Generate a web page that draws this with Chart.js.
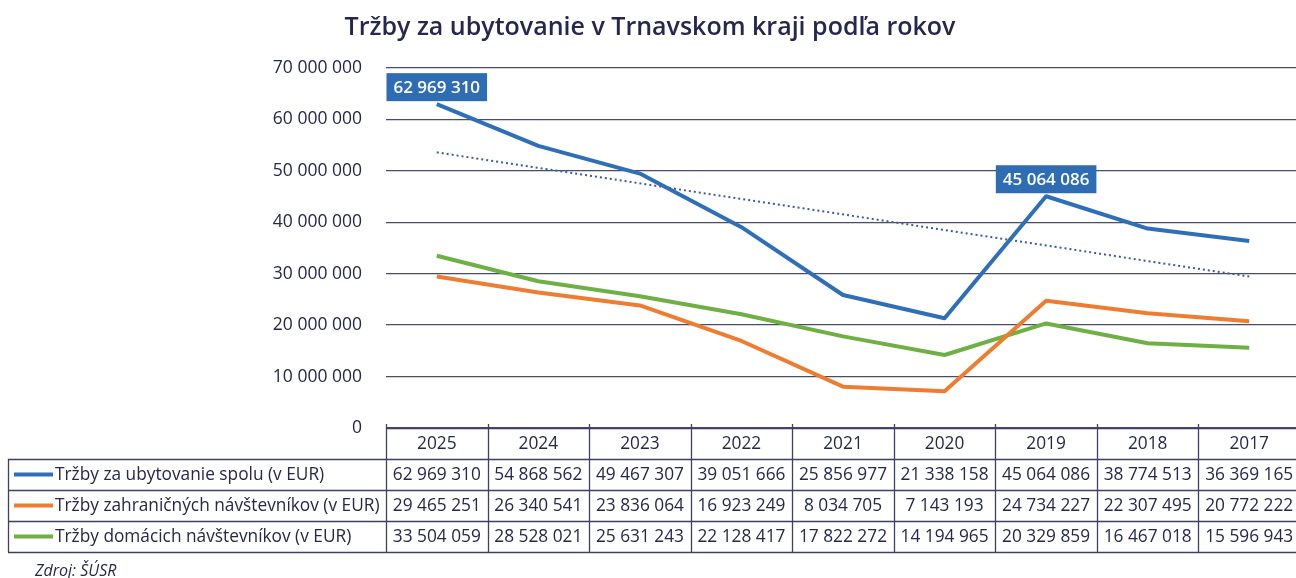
<!DOCTYPE html>
<html lang="sk">
  <head>
    <meta charset="UTF-8" />
    <title>Tržby za ubytovanie v Trnavskom kraji</title>
    <script src="https://cdn.jsdelivr.net/npm/chart.js"></script>
    <style>
      html, body { margin: 0; padding: 0; background: #fff; overflow: hidden; }
      #wrap { width: 1302px; height: 578px; }
    </style>
  </head>
  <body>
    <div id="wrap"><canvas id="trzby" width="1302" height="578"></canvas></div>
    <script>
      // roky (kategórie na osi x)
      const years = ["2025", "2024", "2023", "2022", "2021", "2020", "2019", "2018", "2017"];

      // série
      const spolu = [62969310, 54868562, 49467307, 39051666, 25856977, 21338158, 45064086, 38774513, 36369165];
      const zahranicni = [29465251, 26340541, 23836064, 16923249, 8034705, 7143193, 24734227, 22307495, 20772222];
      const domaci = [33504059, 28528021, 25631243, 22128417, 17822272, 14194965, 20329859, 16467018, 15596943];

      // lineárny trend (odčítané z grafu)
      const trend = [53600000, null, null, null, null, null, null, null, 29450000];

      const seriesNames = [
        "Tržby za ubytovanie spolu (v EUR)",
        "Tržby zahraničných návštevníkov (v EUR)",
        "Tržby domácich návštevníkov (v EUR)",
      ];
      const seriesColors = ["#2f6fb9", "#ee7d31", "#6eb043"];

      // body s popiskom (indexy v sérii spolu)
      const labelled = [0, 6];

      const navy = "#25274f";
      const FONT = "'Open Sans', 'Noto Sans', sans-serif";

      const fmt = (v) => String(v).replace(/\B(?=(\d{3})+(?!\d))/g, " ");

      // tabuľka pod grafom + popisky
      const tablePlugin = {
        id: "dataTable",
        afterDatasetsDraw(chart) {
          const ctx = chart.ctx;
          const meta = chart.getDatasetMeta(0);
          ctx.save();
          ctx.font = "600 17px " + FONT;
          ctx.textAlign = "center";
          ctx.textBaseline = "middle";
          labelled.forEach((i) => {
            const pt = meta.data[i];
            const txt = fmt(spolu[i]);
            const w = ctx.measureText(txt).width + 14;
            const h = 28;
            const bx = pt.x - w / 2;
            const by = pt.y - 3 - h;
            ctx.fillStyle = "#2e6db4";
            ctx.fillRect(bx, by, w, h);
            ctx.fillStyle = "#fff";
            ctx.fillText(txt, pt.x, by + h / 2 + 1);
          });
          ctx.restore();
        },
        afterDraw(chart) {
          const ctx = chart.ctx;
          const x = chart.scales.x;
          const area = chart.chartArea;
          const colW = x.getPixelForValue(1) - x.getPixelForValue(0);
          const left = 8;
          const top = area.bottom;
          const rowH = 31;
          const right = x.getPixelForValue(years.length - 1) + colW / 2;
          const rowsAll = [spolu, zahranicni, domaci];

          ctx.save();
          ctx.strokeStyle = "#3d3f68";
          ctx.lineWidth = 1.3;

          // horizontálne čiary
          ctx.beginPath();
          ctx.moveTo(area.left, top + 0.5);
          ctx.lineTo(right, top + 0.5);
          for (let r = 1; r <= 4; r++) {
            const y = Math.round(top + r * rowH) + 0.5;
            ctx.moveTo(left, y);
            ctx.lineTo(right, y);
          }
          // vertikálne čiary
          ctx.moveTo(left + 0.5, top + rowH);
          ctx.lineTo(left + 0.5, top + 4 * rowH);
          for (let i = 0; i <= years.length; i++) {
            const xe = Math.round(x.getPixelForValue(i) - colW / 2) + 0.5;
            ctx.moveTo(xe, top - 4);
            ctx.lineTo(xe, top + 4 * rowH);
          }
          ctx.stroke();

          ctx.fillStyle = navy;
          ctx.font = "17.3px " + FONT;
          ctx.textBaseline = "middle";
          ctx.textAlign = "center";
          years.forEach((yr, i) => {
            const cx = x.getPixelForValue(i);
            ctx.fillText(yr, cx, top + rowH / 2 + 1);
            rowsAll.forEach((s, r) => {
              ctx.fillText(fmt(s[i]), cx, top + (r + 1.5) * rowH + 1);
            });
          });

          ctx.textAlign = "left";
          seriesNames.forEach((name, r) => {
            const cy = top + (r + 1.5) * rowH;
            ctx.strokeStyle = seriesColors[r];
            ctx.lineWidth = 4;
            ctx.beginPath();
            ctx.moveTo(14, cy);
            ctx.lineTo(53, cy);
            ctx.stroke();
            ctx.fillStyle = navy;
            ctx.fillText(name, 55, cy + 1);
          });

          ctx.font = "italic 16px " + FONT;
          ctx.fillText("Zdroj: ŠÚSR", 35, 571);
          ctx.restore();
        },
      };

      new Chart(document.getElementById("trzby"), {
        type: "line",
        data: {
          labels: years,
          datasets: [
            {
              label: seriesNames[0],
              data: spolu,
              borderColor: seriesColors[0],
              borderWidth: 4,
            },
            {
              label: seriesNames[1],
              data: zahranicni,
              borderColor: seriesColors[1],
              borderWidth: 4,
            },
            {
              label: seriesNames[2],
              data: domaci,
              borderColor: seriesColors[2],
              borderWidth: 4,
            },
            {
              label: "Lineárny trend",
              data: trend,
              spanGaps: true,
              borderColor: "#3a5aa8",
              borderWidth: 2,
              borderDash: [2, 3],
            },
          ],
        },
        options: {
          responsive: false,
          animation: false,
          elements: {
            point: { radius: 0 },
            line: { tension: 0, borderJoinStyle: "round", borderCapStyle: "butt" },
          },
          layout: { padding: { top: 0, left: 0, right: 2, bottom: 150 } },
          scales: {
            x: {
              type: "category",
              offset: true,
              display: false,
            },
            y: {
              min: 0,
              max: 70000000,
              afterFit: (s) => { s.width = 386; },
              border: { display: false },
              grid: { color: "#4a4c68", lineWidth: 1.3, drawTicks: false },
              ticks: {
                stepSize: 10000000,
                padding: 24,
                color: navy,
                font: { family: FONT, size: 17.5, weight: "500" },
                callback: (v) => fmt(v),
              },
            },
          },
          plugins: {
            legend: { display: false },
            tooltip: { enabled: false },
            title: {
              display: true,
              text: "Tržby za ubytovanie v Trnavskom kraji podľa rokov",
              color: navy,
              font: { family: FONT, size: 25, weight: "600" },
              padding: { top: 13, bottom: 25 },
            },
          },
        },
        plugins: [tablePlugin],
      });
    </script>
  </body>
</html>
